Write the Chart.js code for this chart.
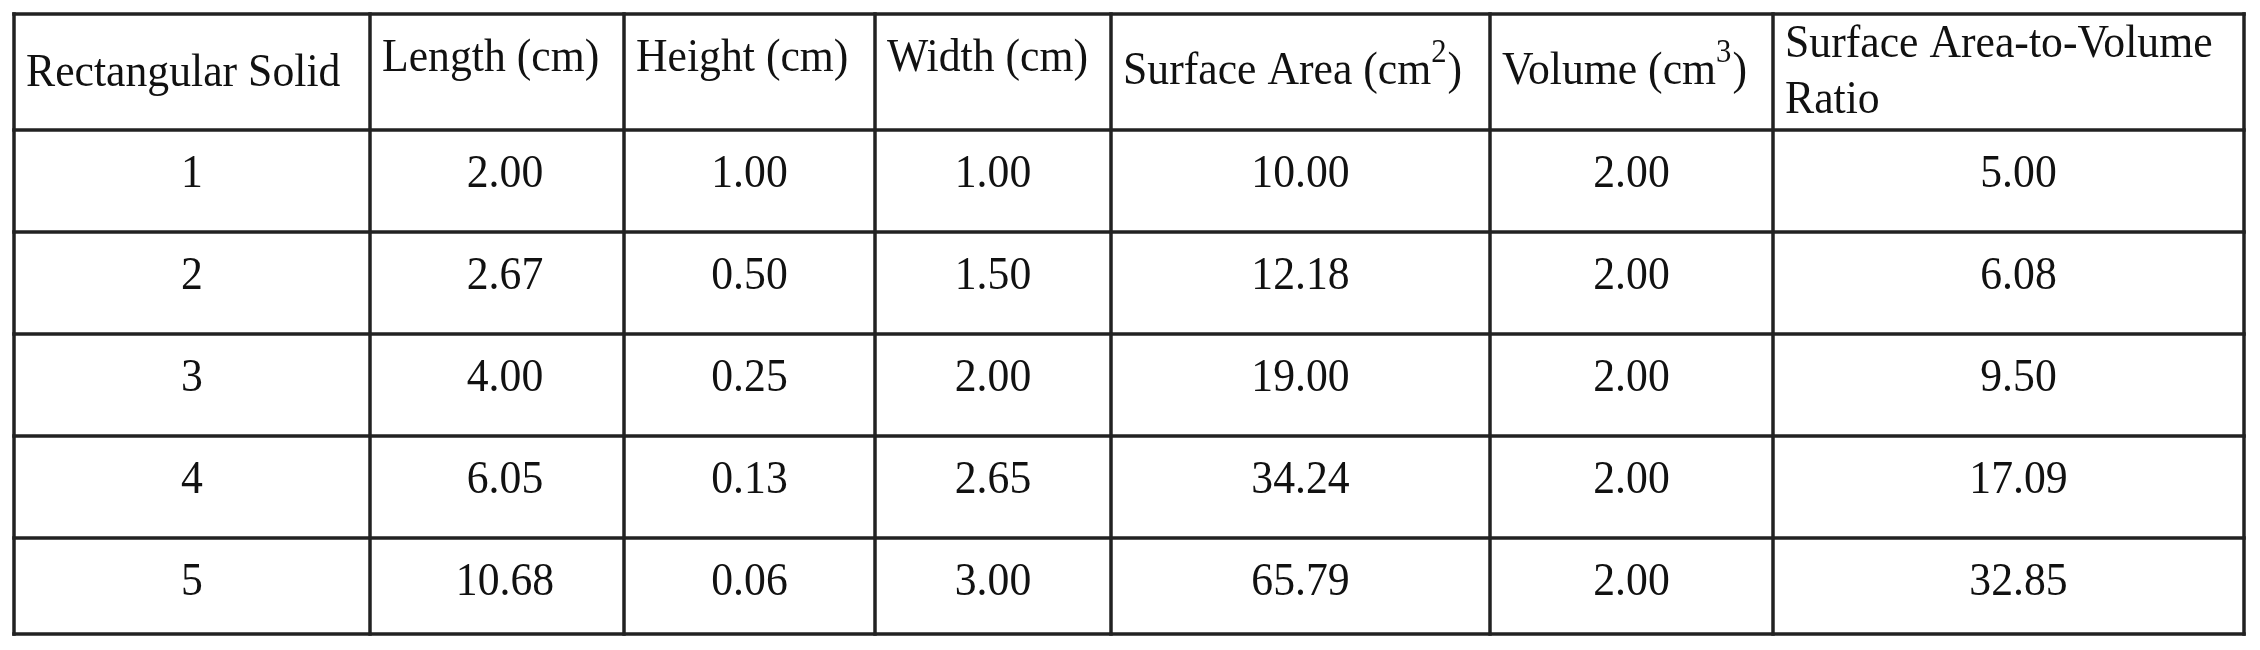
<!DOCTYPE html>
<html><head><meta charset="utf-8">
<script src="https://cdn.jsdelivr.net/npm/chart.js@4"></script>
<style>html,body{margin:0;padding:0;background:#fff}canvas{display:block}</style>
</head><body>
<canvas id="c" width="2260" height="650"></canvas>
<script>
// ---- data ----
const headers = [
  [["Rectangular Solid"]],
  [["Length (cm)"]],
  [["Height (cm)"]],
  [["Width (cm)"]],
  [["Surface Area (cm", "2", ")"]],
  [["Volume (cm", "3", ")"]],
  [["Surface Area-to-Volume"], ["Ratio"]]
];
const solids = ["1", "2", "3", "4", "5"];
const lengths = ["2.00", "2.67", "4.00", "6.05", "10.68"];
const heights = ["1.00", "0.50", "0.25", "0.13", "0.06"];
const widths = ["1.00", "1.50", "2.00", "2.65", "3.00"];
const surfaceAreas = ["10.00", "12.18", "19.00", "34.24", "65.79"];
const volumes = ["2.00", "2.00", "2.00", "2.00", "2.00"];
const ratios = ["5.00", "6.08", "9.50", "17.09", "32.85"];
const columns = [solids, lengths, heights, widths, surfaceAreas, volumes, ratios];

// ---- layout (scale units) ----
const colEdges = [14, 370, 624, 875, 1111, 1490, 1773, 2244];
const rowEdges = [14, 130, 232, 334, 436, 538, 634];
const headerBaselines = [86, 71, 71, 71, 84, 84, 57];
const cellShift = [0, 8, 0, 0, 0, 0, 10];

const tablePlugin = {
  id: 'table',
  afterDraw(chart) {
    const ctx = chart.ctx, xs = chart.scales.x, ys = chart.scales.y;
    const X = v => xs.getPixelForValue(v), Y = v => ys.getPixelForValue(v);
    const SX = 0.93;
    ctx.save();
    ctx.strokeStyle = '#222'; ctx.lineWidth = 3.5;
    colEdges.forEach(c => { ctx.beginPath(); ctx.moveTo(X(c), Y(rowEdges[0]) - 1.75); ctx.lineTo(X(c), Y(rowEdges[rowEdges.length-1]) + 1.75); ctx.stroke(); });
    rowEdges.forEach(r => { ctx.beginPath(); ctx.moveTo(X(colEdges[0]) - 1.75, Y(r)); ctx.lineTo(X(colEdges[colEdges.length-1]) + 1.75, Y(r)); ctx.stroke(); });
    ctx.fillStyle = '#111';
    ctx.textBaseline = 'alphabetic';
    const font = '47px "Liberation Serif", "Times New Roman", serif';
    const supFont = '33px "Liberation Serif", "Times New Roman", serif';
    const draw = (s, x, y) => { ctx.save(); ctx.translate(x, y); ctx.scale(SX, 1); ctx.fillText(s, 0, 0); ctx.restore(); };
    // headers
    headers.forEach((lines, ci) => {
      lines.forEach((segs, li) => {
        let x = X(colEdges[ci]) + 12;
        const y = Y(headerBaselines[ci] + li * 56);
        ctx.textAlign = 'left';
        segs.forEach((s, si) => {
          const sup = segs.length === 3 && si === 1;
          ctx.font = sup ? supFont : font;
          draw(s, x, sup ? y - 22 : y);
          x += ctx.measureText(s).width * SX + (sup ? 1 : 0);
        });
      });
    });
    // cells
    ctx.font = font; ctx.textAlign = 'center';
    columns.forEach((col, ci) => {
      col.forEach((v, ri) => {
        const cx = X((colEdges[ci] + colEdges[ci+1]) / 2 + cellShift[ci]);
        const cy = Y(rowEdges[ri+1] + 57);
        draw(v, cx, cy);
      });
    });
    ctx.restore();
  }
};

new Chart(document.getElementById('c'), {
  type: 'scatter',
  data: { datasets: [{ data: [], pointRadius: 0 }] },
  options: {
    responsive: false, animation: false, devicePixelRatio: 1,
    layout: { padding: 0 },
    plugins: { legend: { display: false }, tooltip: { enabled: false } },
    scales: {
      x: { type: 'linear', min: 0, max: 2260, display: false },
      y: { type: 'linear', min: 0, max: 650, reverse: true, display: false }
    }
  },
  plugins: [tablePlugin]
});
</script>
</body></html>
